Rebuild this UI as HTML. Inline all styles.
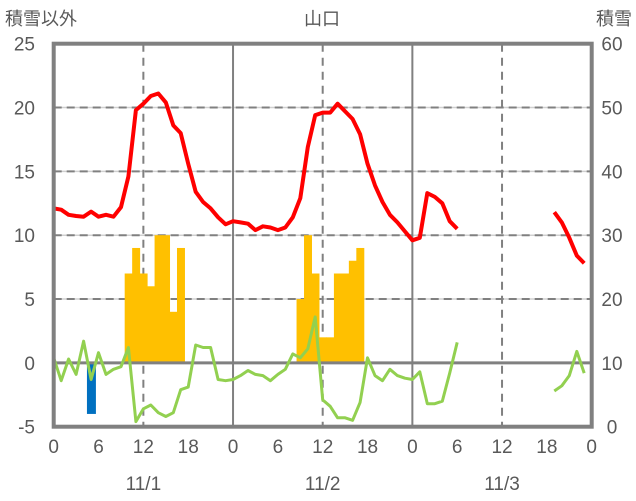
<!DOCTYPE html>
<html><head><meta charset="utf-8"><style>
body{margin:0;background:#fff}
svg{display:block;font-family:"Liberation Sans","Noto Sans CJK JP",sans-serif}
</style></head><body>
<svg id="c" width="636" height="501" viewBox="0 0 636 501">
<g id="grid"></g>
<g id="marks"></g>
<g id="frame"></g>
<g id="labels"></g>
<text x="5" y="25" font-size="18" fill="#595959">積雪以外</text>
<text x="322" y="25" font-size="18" fill="#595959" text-anchor="middle">山口</text>
<text x="632" y="25" font-size="18" fill="#595959" text-anchor="end">積雪</text>
</svg>
<script>
const leftTicks=[-5,0,5,10,15,20,25];
const rightTicks=[0,10,20,30,40,50,60];
const hourLabels=["0","6","12","18","0","6","12","18","0","6","12","18","0"];
const dateLabels=["11/1","11/2","11/3"];
const redLine=[12.1,12.0,11.6,11.5,11.45,11.85,11.45,11.6,11.45,12.2,14.6,19.8,20.3,20.9,21.1,20.4,18.6,18.0,15.6,13.4,12.6,12.1,11.4,10.85,11.1,
11.0,10.9,10.4,10.7,10.6,10.4,10.6,11.4,12.9,16.9,19.4,19.6,19.6,20.3,19.7,19.1,17.9,15.6,13.9,12.6,11.6,11.0,10.3,9.6,
9.8,13.3,13.0,12.5,11.1,10.5,null,null,null,null,null,null,null,null,null,null,null,null,11.8,11.0,9.8,8.4,7.8];
const greenLine=[0.4,-1.4,0.3,-0.9,1.7,-1.3,0.8,-0.9,-0.5,-0.3,1.2,-4.6,-3.6,-3.3,-3.9,-4.2,-3.9,-2.1,-1.9,1.4,1.2,1.2,-1.3,-1.4,-1.3,
-1.0,-0.6,-0.9,-1.0,-1.4,-0.9,-0.5,0.7,0.4,1.1,3.6,-2.9,-3.4,-4.3,-4.3,-4.5,-3.1,0.4,-1.0,-1.4,-0.5,-1.0,-1.2,-1.3,
-0.7,-3.2,-3.2,-3.0,-0.8,1.6,null,null,null,null,null,null,null,null,null,null,null,null,-2.2,-1.8,-1.0,0.9,-0.8];
const orangeHours=[10,11,12,13,14,15,16,17,33,34,35,36,37,38,39,40,41];
const orangeValues=[7,9,7,6,10,10,4,9,5,10,7,2,2,7,7,8,9];
const blueHours=[5];
const blueValues=[-4];

const X0=53.7,X1=591.7,Y0=426.7,Y1=43.7;
const x=h=>X0+(X1-X0)*h/72;
const y=v=>Y0-(Y0-Y1)*(v+5)/30;
const NS="http://www.w3.org/2000/svg";
function mk(tag,parent,attrs){const e=document.createElementNS(NS,tag);for(const k in attrs)e.setAttribute(k,attrs[k]);parent.appendChild(e);return e;}
const grid=document.getElementById('grid'),marks=document.getElementById('marks'),frame=document.getElementById('frame'),labels=document.getElementById('labels');

leftTicks.forEach(v=>{
  if(v===-5||v===25||v===0)return;
  const l=mk('line',grid,{x1:X0,x2:X1,y1:y(v),y2:y(v),stroke:'#d0d0d0','stroke-width':1.5});
  
  
  const d=mk('line',grid,{x1:X0,x2:X1,y1:y(v),y2:y(v),stroke:'#808080','stroke-width':2,'stroke-dasharray':'8 5'});
  
  
});
for(let h=12;h<72;h+=12){
  const day=h%24===0;
  const l=mk('line',grid,{x1:x(h),x2:x(h),y1:Y1,y2:Y0,stroke:'#808080','stroke-width':2,'stroke-dasharray':day?'none':'8 6'});
  
  
}
orangeHours.forEach((h,i)=>{
  const v=orangeValues[i];
  const r=mk('rect',marks,{x:x(h-0.5),y:y(v),width:x(1)-x(0)+0.5,height:y(0)-y(v),fill:'#ffc000'});
  
  
});
blueHours.forEach((h,i)=>{
  const v=blueValues[i];
  const r=mk('rect',marks,{x:x(h-0.55),y:y(0),width:(x(1)-x(0))*1.2,height:y(v)-y(0),fill:'#0070c0'});
  
  
});
function path(arr){let d='',pen=false;arr.forEach((v,h)=>{if(v===null){pen=false;return;}d+=(pen?'L':'M')+x(h).toFixed(1)+' '+y(v).toFixed(1);pen=true;});return d;}
const z=mk('line',marks,{x1:X0,x2:X1,y1:y(0),y2:y(0),stroke:'#808080','stroke-width':3});


const g=mk('path',marks,{d:path(greenLine),fill:'none',stroke:'#92d050','stroke-width':3,'stroke-linejoin':'round'});


const r=mk('path',marks,{d:path(redLine),fill:'none',stroke:'#ff0000','stroke-width':4,'stroke-linejoin':'round'});


const f=mk('rect',frame,{x:X0,y:Y1,width:X1-X0,height:Y0-Y1,fill:'none',stroke:'#808080','stroke-width':4});


leftTicks.forEach(v=>{
  const t=mk('text',labels,{x:35,y:y(v)+7,'font-size':19,fill:'#595959','text-anchor':'end'});
  t.textContent=v;
  
  
});
rightTicks.forEach(v=>{
  const t=mk('text',labels,{x:612,y:y(v/2-5)+7,'font-size':19,fill:'#595959','text-anchor':'middle'});
  t.textContent=v;
  
  
});
hourLabels.forEach((s,i)=>{
  const t=mk('text',labels,{x:x(i*6),y:453,'font-size':19,fill:'#595959','text-anchor':'middle'});
  t.textContent=s;
  
  
});
dateLabels.forEach((s,i)=>{
  const t=mk('text',labels,{x:x(i*24+12),y:490,'font-size':19,fill:'#595959','text-anchor':'middle'});
  t.textContent=s;
  
  
});
</script>
</body></html>
